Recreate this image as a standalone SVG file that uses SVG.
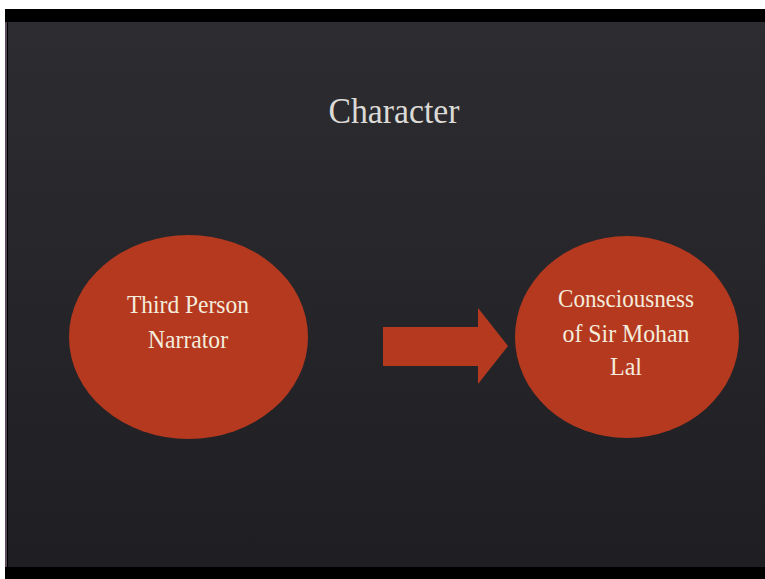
<svg xmlns="http://www.w3.org/2000/svg" width="765" height="579" viewBox="0 0 765 579">
  <defs>
    <linearGradient id="slideBg" x1="0" y1="0" x2="0" y2="1">
      <stop offset="0" stop-color="#2d2d31"/>
      <stop offset="1" stop-color="#1f1f23"/>
    </linearGradient>
    <style>
      .shape { fill: #b5391f; }
      .label { font-family: "Liberation Serif", "Times New Roman", serif; fill: #f3ecdc; text-anchor: middle; }
      .title { font-family: "Liberation Serif", "Times New Roman", serif; fill: #dcdad6; text-anchor: middle; }
    </style>
  </defs>

  <!-- page frame -->
  <rect x="0" y="0" width="765" height="579" fill="#ffffff"/>
  <rect x="5" y="9" width="760" height="570" fill="#000000"/>
  <rect x="5" y="22" width="2" height="545" fill="#5a4a5c"/>
  <rect x="8" y="22" width="757" height="545" fill="url(#slideBg)"/>

  <!-- title -->
  <text class="title" x="394" y="123" font-size="36" textLength="131" lengthAdjust="spacingAndGlyphs">Character</text>

  <!-- connectors -->
  <g id="connectors">
    <polygon class="shape" points="383,327 478,327 478,308 508,346 478,384 478,366 383,366"/>
  </g>

  <!-- nodes -->
  <g id="node-narrator">
    <ellipse class="shape" cx="188.5" cy="337" rx="119.5" ry="102"/>
    <text class="label" x="188" y="313" font-size="26" textLength="122" lengthAdjust="spacingAndGlyphs">Third Person</text>
    <text class="label" x="188" y="348" font-size="26" textLength="80" lengthAdjust="spacingAndGlyphs">Narrator</text>
  </g>

  <g id="node-consciousness">
    <ellipse class="shape" cx="627" cy="337" rx="112" ry="101"/>
    <text class="label" x="626" y="307" font-size="26" textLength="136" lengthAdjust="spacingAndGlyphs">Consciousness</text>
    <text class="label" x="626" y="342" font-size="26" textLength="127" lengthAdjust="spacingAndGlyphs">of Sir Mohan</text>
    <text class="label" x="626" y="375" font-size="26" textLength="32" lengthAdjust="spacingAndGlyphs">Lal</text>
  </g>
</svg>
